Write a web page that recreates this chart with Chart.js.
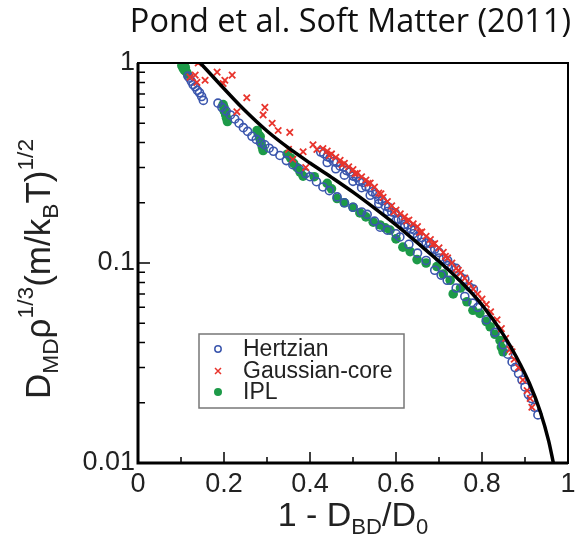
<!DOCTYPE html>
<html>
<head>
<meta charset="utf-8">
<script src="https://cdn.jsdelivr.net/npm/chart.js@4.4.1/dist/chart.umd.min.js"></script>
<style>
  html, body { margin: 0; padding: 0; background: #fff; }
  #wrap { position: relative; width: 583px; height: 544px; overflow: hidden; }
  #title { position: absolute; right: 12px; top: 0; line-height: 40px; font-family: "Open Sans"; font-size: 32.5px; color: #111; white-space: nowrap; }
  .axt { position: absolute; font-family: "Liberation Sans", Arial, sans-serif; font-size: 34px; color: #222; white-space: nowrap; text-align: center; }
  #xtitle { left: 138px; width: 430px; top: 494px; line-height: 40px; }
  #ytitle { left: -182px; width: 440px; top: 244px; height: 50px; line-height: 50px; font-size: 35px; transform: rotate(-90deg); }
  .axt sub, .axt sup { font-size: 65%; line-height: 0; }
  .axt sub { vertical-align: -0.35em; }
  .axt sup { vertical-align: 0.75em; }
</style>
</head>
<body>
<div id="wrap">
  <canvas id="c" width="583" height="544"></canvas>
  <div id="title">Pond et al. Soft Matter (2011)</div>
  <div id="xtitle" class="axt">1 - D<sub>BD</sub>/D<sub>0</sub></div>
  <div id="ytitle" class="axt">D<sub>MD</sub>&rho;<sup>1/3</sup>(m/k<sub>B</sub>T)<sup>1/2</sup></div>
</div>
<script>
// values: [1 - D_BD/D_0, D_MD rho^1/3 (m/kT)^1/2]
const hertzianPts = [
  [0.116,0.86],[0.12,0.84],[0.124,0.81],[0.128,0.78],[0.133,0.76],[0.138,0.73],[0.143,0.71],[0.148,0.68],[0.152,0.65],
  [0.186,0.63],[0.195,0.6],[0.205,0.575],[0.215,0.55],[0.225,0.525],[0.235,0.5],[0.245,0.475],[0.255,0.455],[0.265,0.43],
  [0.275,0.415],[0.285,0.4],[0.295,0.39],[0.305,0.375],[0.315,0.362],[0.33,0.345],
  [0.345,0.325],[0.36,0.31],[0.375,0.295],[0.39,0.28],[0.4,0.27],[0.415,0.255],[0.43,0.24],[0.445,0.23],[0.463,0.214],[0.48,0.2],
  [0.5,0.19],[0.52,0.18],[0.533,0.175],[0.55,0.162],[0.563,0.151],[0.58,0.146],[0.6,0.14],[0.609,0.135],[0.63,0.124],[0.65,0.112],
  [0.67,0.103],[0.69,0.092],[0.705,0.087],[0.719,0.082],[0.74,0.075],[0.76,0.068],[0.779,0.063],[0.79,0.06],[0.81,0.052],[0.83,0.045],
  [0.849,0.039],[0.86,0.035],[0.87,0.032],[0.877,0.030],[0.885,0.028],[0.893,0.026],[0.9,0.024],[0.908,0.022],[0.915,0.021],[0.922,0.019],[0.93,0.0174],
  [0.425,0.359],[0.432,0.352],[0.44,0.34],[0.447,0.336],[0.455,0.322],[0.462,0.318],[0.47,0.305],[0.478,0.302],[0.485,0.29],[0.493,0.285],
  [0.5,0.272],[0.508,0.268],[0.515,0.256],[0.523,0.253],[0.53,0.241],[0.538,0.238],[0.545,0.227],[0.553,0.221],[0.56,0.208],[0.568,0.205],
  [0.575,0.193],[0.583,0.19],[0.59,0.18],[0.598,0.178],[0.605,0.166],[0.613,0.164],[0.62,0.156],[0.628,0.155],[0.635,0.148],[0.643,0.146],
  [0.65,0.136],[0.66,0.134],[0.67,0.126],[0.68,0.125],[0.69,0.117],[0.7,0.113],[0.71,0.105],[0.72,0.103],[0.73,0.096],[0.74,0.094],
  [0.75,0.085],[0.76,0.083],[0.77,0.076],[0.78,0.074],
  [0.44,0.318],[0.46,0.296],[0.48,0.275],[0.5,0.256],[0.52,0.238],[0.54,0.218],[0.56,0.198],[0.58,0.181],[0.6,0.163],[0.62,0.152],
  [0.64,0.14],[0.66,0.127],[0.68,0.117],[0.7,0.106],[0.72,0.097]
];

const gaussianPts = [
  [0.14,1.0],[0.133,0.87],[0.121,0.85],[0.137,0.8],[0.156,0.82],[0.184,0.9],[0.202,0.82],[0.219,0.87],[0.198,0.79],[0.253,0.67],
  [0.23,0.57],[0.295,0.6],[0.291,0.55],[0.312,0.5],[0.326,0.46],[0.353,0.45],[0.407,0.39],[0.416,0.37],[0.35,0.37],[0.384,0.36],
  [0.36,0.33],[0.39,0.3],
  [0.43,0.373],[0.44,0.363],[0.45,0.351],[0.46,0.338],[0.47,0.326],[0.48,0.315],[0.49,0.303],[0.5,0.293],[0.51,0.281],[0.52,0.27],
  [0.53,0.26],[0.54,0.251],[0.55,0.24],[0.56,0.224],[0.57,0.213],[0.58,0.203],[0.59,0.193],[0.6,0.184],[0.61,0.176],[0.62,0.17],
  [0.63,0.164],[0.64,0.157],[0.65,0.152],[0.66,0.143],[0.67,0.136],[0.68,0.131],[0.69,0.125],[0.7,0.119],[0.71,0.113],[0.72,0.106],
  [0.73,0.1],[0.74,0.094],[0.75,0.089],[0.76,0.084],[0.77,0.079],[0.78,0.074],[0.79,0.07],
  [0.445,0.345],[0.475,0.31],[0.505,0.28],[0.535,0.25],[0.565,0.222],[0.595,0.18],[0.625,0.162],[0.655,0.142],[0.685,0.124],[0.715,0.108],[0.745,0.092],
  [0.8,0.066],[0.81,0.062],[0.82,0.057],[0.835,0.052],[0.845,0.047],[0.855,0.042],[0.865,0.037],[0.875,0.033],[0.885,0.03],[0.895,0.026],
  [0.905,0.023],[0.916,0.019],[0.912,0.021],[0.87,0.036]
];

const iplPts = [
  [0.102,0.97],[0.105,0.94],[0.108,0.92],[0.11,0.95],[0.113,0.9],[0.115,0.88],[0.107,0.99],
  [0.198,0.62],[0.2,0.6],[0.202,0.57],[0.204,0.55],[0.206,0.53],[0.208,0.51],[0.2,0.58],
  [0.277,0.46],[0.28,0.44],[0.283,0.42],[0.286,0.4],[0.289,0.38],[0.291,0.365],[0.284,0.43],
  [0.347,0.35],[0.355,0.335],[0.362,0.315],[0.37,0.3],[0.377,0.285],[0.384,0.272],
  [0.41,0.27],[0.44,0.25],[0.45,0.235],[0.463,0.21],[0.48,0.2],[0.5,0.19],[0.516,0.178],[0.53,0.17],[0.547,0.16],
  [0.563,0.155],[0.575,0.15],[0.586,0.146],[0.6,0.132],[0.616,0.12],[0.633,0.114],[0.649,0.104],[0.67,0.1],[0.695,0.096],[0.71,0.088],
  [0.726,0.082],[0.733,0.07],[0.75,0.075],[0.765,0.064],[0.779,0.058],[0.795,0.056],[0.81,0.051],[0.819,0.048],[0.83,0.044],
  [0.842,0.041],[0.849,0.036],[0.845,0.038]
];

const curveX = [0.145, 0.19, 0.244, 0.3, 0.35, 0.4, 0.45, 0.5, 0.55, 0.6, 0.65, 0.7, 0.75, 0.8, 0.85, 0.88, 0.91, 0.935, 0.955, 0.966];
const curveY = [1.0, 0.785, 0.592, 0.457, 0.376, 0.316, 0.268, 0.226, 0.188, 0.155, 0.126, 0.102, 0.081, 0.0617, 0.0437, 0.0339, 0.0251, 0.0182, 0.0129, 0.01];

const xMajor = [0.2, 0.4, 0.6, 0.8];
const xMinor = [0.1, 0.3, 0.5, 0.7, 0.9];
const yTicks = [0.01, 0.1, 1];
const seriesNames = ['Hertzian', 'Gaussian-core', 'IPL'];

const BLUE = '#3b56ad', RED = '#e8342c', GREEN = '#1d9a48';
const tickFont = { family: '"Liberation Sans", Arial, sans-serif', size: 27 };

const toXY = pts => pts.map(p => ({ x: p[0], y: p[1] }));

// box, inward ticks and legend drawn on top of the data
const framePlugin = {
  id: 'frame',
  afterDatasetsDraw(chart) {
    const { ctx, chartArea: a, scales: { x, y } } = chart;
    ctx.save();
    ctx.strokeStyle = '#000';
    ctx.lineWidth = 1.5;
    ctx.beginPath();
    xMajor.forEach(v => { const p = x.getPixelForValue(v); ctx.moveTo(p, a.bottom); ctx.lineTo(p, a.bottom - 11); });
    xMinor.forEach(v => { const p = x.getPixelForValue(v); ctx.moveTo(p, a.bottom); ctx.lineTo(p, a.bottom - 6); });
    [0.01, 0.1].forEach(d => {
      for (let k = 2; k <= 9; k++) {
        const p = y.getPixelForValue(d * k);
        ctx.moveTo(a.left, p); ctx.lineTo(a.left + 7, p);
      }
    });
    const p1 = y.getPixelForValue(0.1);
    ctx.moveTo(a.left, p1); ctx.lineTo(a.left + 12, p1);
    ctx.stroke();

    ctx.lineWidth = 2;
    ctx.strokeRect(a.left, a.top, a.right - a.left, a.bottom - a.top);
    ctx.lineWidth = 3;
    ctx.beginPath();
    ctx.moveTo(a.left, a.top); ctx.lineTo(a.left, a.bottom); ctx.lineTo(a.right, a.bottom);
    ctx.stroke();

    // legend
    const lx = a.left + 61, ly = a.top + 271, lw = 205, lh = 74;
    ctx.fillStyle = '#fff';
    ctx.fillRect(lx, ly, lw, lh);
    ctx.strokeStyle = '#777';
    ctx.lineWidth = 1.5;
    ctx.strokeRect(lx, ly, lw, lh);
    const rows = [ly + 15, ly + 37, ly + 58];
    const mx = lx + 19;
    ctx.lineWidth = 1.5;
    ctx.strokeStyle = BLUE;
    ctx.beginPath(); ctx.arc(mx, rows[0], 3.2, 0, Math.PI * 2); ctx.stroke();
    ctx.strokeStyle = RED;
    ctx.beginPath();
    ctx.moveTo(mx - 3, rows[1] - 3); ctx.lineTo(mx + 3, rows[1] + 3);
    ctx.moveTo(mx + 3, rows[1] - 3); ctx.lineTo(mx - 3, rows[1] + 3);
    ctx.stroke();
    ctx.fillStyle = GREEN;
    ctx.beginPath(); ctx.arc(mx, rows[2], 4, 0, Math.PI * 2); ctx.fill();
    ctx.fillStyle = '#222';
    ctx.font = '23px "Liberation Sans", Arial, sans-serif';
    ctx.textBaseline = 'middle';
    ctx.textAlign = 'left';
    seriesNames.forEach((n, i) => ctx.fillText(n, lx + 44, rows[i] + 1));
    ctx.restore();
  }
};

new Chart(document.getElementById('c'), {
  type: 'scatter',
  data: {
    datasets: [
      {
        label: 'curve',
        data: curveX.map((v, i) => ({ x: v, y: curveY[i] })),
        showLine: true,
        borderColor: '#000',
        borderWidth: 3.5,
        pointRadius: 0,
        cubicInterpolationMode: 'monotone',
        order: 0
      },
      {
        label: seriesNames[1],
        data: toXY(gaussianPts),
        pointStyle: 'crossRot',
        pointRadius: 4.5,
        borderColor: RED,
        borderWidth: 1.8,
        order: 1
      },
      {
        label: seriesNames[0],
        data: toXY(hertzianPts),
        pointStyle: 'circle',
        pointRadius: 4,
        backgroundColor: 'rgba(0,0,0,0)',
        borderColor: BLUE,
        borderWidth: 1.6,
        order: 2
      },
      {
        label: seriesNames[2],
        data: toXY(iplPts),
        pointStyle: 'circle',
        pointRadius: 4.8,
        backgroundColor: GREEN,
        borderColor: GREEN,
        borderWidth: 0,
        order: 3
      }
    ]
  },
  options: {
    responsive: false,
    animation: false,
    devicePixelRatio: 1,
    layout: { padding: { left: 0, right: 15, top: 63, bottom: 0 } },
    plugins: {
      legend: { display: false },
      tooltip: { enabled: false }
    },
    scales: {
      x: {
        type: 'linear',
        min: 0,
        max: 1,
        grid: { display: false, drawTicks: false },
        border: { display: false },
        afterFit: s => { s.height = 81; },
        ticks: {
          stepSize: 0.2,
          autoSkip: false,
          maxRotation: 0,
          padding: 5,
          color: '#222',
          font: tickFont,
          callback: v => (v === 0 || v === 1) ? String(v) : v.toFixed(1)
        }
      },
      y: {
        type: 'logarithmic',
        min: 0.01,
        max: 1,
        grid: { display: false, drawTicks: false },
        border: { display: false },
        afterFit: s => { s.width = 138; },
        afterBuildTicks: s => { s.ticks = yTicks.map(v => ({ value: v })); },
        ticks: {
          padding: 3,
          color: '#222',
          font: tickFont,
          callback: v => String(v)
        }
      }
    }
  },
  plugins: [framePlugin]
});
</script>
</body>
</html>
